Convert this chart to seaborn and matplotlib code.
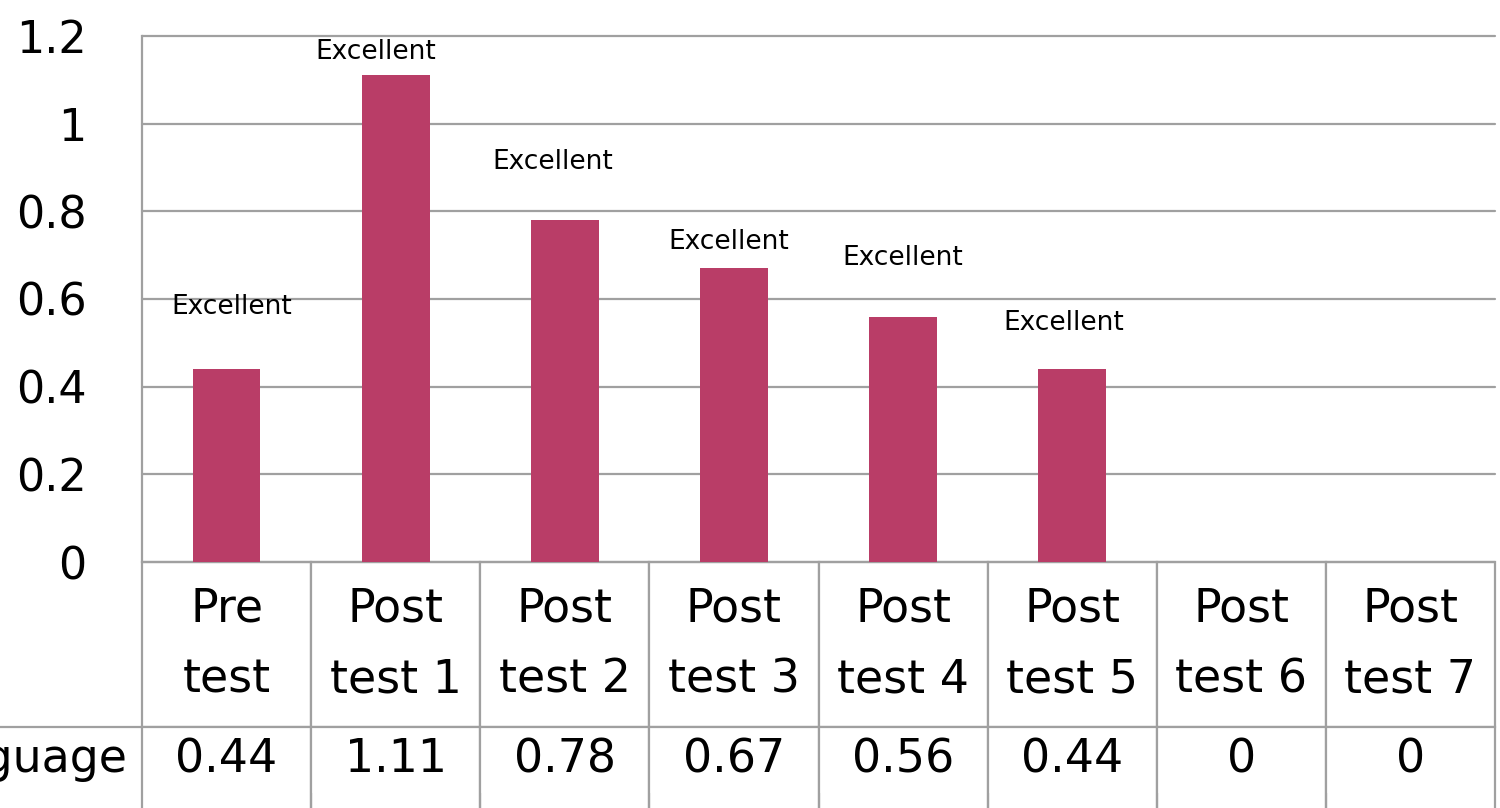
import matplotlib
matplotlib.use("Agg")
import numpy as np
import pandas as pd
import seaborn as sns
from matplotlib import pyplot as plt

# chart data
categories = ["Pre test", "Post test 1", "Post test 2", "Post test 3",
              "Post test 4", "Post test 5", "Post test 6", "Post test 7"]
header_labels = ["Pre\ntest", "Post\ntest 1", "Post\ntest 2", "Post\ntest 3",
                 "Post\ntest 4", "Post\ntest 5", "Post\ntest 6", "Post\ntest 7"]
language = [0.44, 1.11, 0.78, 0.67, 0.56, 0.44, 0, 0]
value_text = ["0.44", "1.11", "0.78", "0.67", "0.56", "0.44", "0", "0"]
notes = ["Excellent"] * 6
y_ticks = [0, 0.2, 0.4, 0.6, 0.8, 1, 1.2]
y_tick_labels = ["0", "0.2", "0.4", "0.6", "0.8", "1", "1.2"]

# where the "Excellent" notes sit (x offset from bar centre, y in data units)
note_pos = [(0.03, 0.582), (-0.115, 1.164), (-0.074, 0.913),
            (-0.03, 0.730), (0.0, 0.694), (-0.05, 0.545)]

sns.set_style("white")
plt.rcParams["font.family"] = ["DejaVu Sans"]
plt.rcParams["text.color"] = "black"
plt.rcParams["ytick.color"] = "black"

grey = "#a0a0a0"
bar_color = "#b93d67"

df = pd.DataFrame({"test": categories, "value": language})

fig = plt.figure(figsize=(15, 8.08), dpi=100)
ax = fig.add_axes([142 / 1500, 1 - 562 / 808, 1353 / 1500, 526 / 808])

sns.barplot(data=df, x="test", y="value", order=categories, color=bar_color,
            width=0.4, saturation=1, linewidth=0, ax=ax)

ax.set_ylim(0, 1.2)
ax.set_xlim(-0.5, len(categories) - 0.5)
ax.set_yticks(y_ticks)
ax.set_yticklabels(y_tick_labels, fontsize=32)
ax.tick_params(axis="y", length=0, pad=40, labelcolor="black")
for lbl in ax.get_yticklabels():
    lbl.set_va("center_baseline")
ax.set_xticks([])
ax.set_xlabel("")
ax.set_ylabel("")
ax.yaxis.grid(True, color=grey, linewidth=1.6)
for gl in ax.get_ygridlines():
    gl.set_clip_on(False)
ax.set_axisbelow(True)
for side in ["top", "right", "bottom"]:
    ax.spines[side].set_visible(False)
ax.spines["left"].set_color(grey)
ax.spines["left"].set_linewidth(1.6)

for i, (dx, y) in enumerate(note_pos):
    ax.text(i + dx, y, notes[i], ha="center", va="center", fontsize=19,
            color="black")

# data table under the bars
cell_text = [[""] + header_labels, ["Language"] + value_text, [""] * 9]
row_h = [165, 66, 40]
col_w = [142] + [1353 / 8] * 8
total_w = sum(col_w)
tab = ax.table(cellText=cell_text, cellLoc="center",
               colWidths=[w / total_w for w in col_w],
               bbox=[-142 / 1353, -sum(row_h) / 526, total_w / 1353, sum(row_h) / 526])
tab.auto_set_font_size(False)
tab.set_fontsize(33)
for (r, c), cell in tab.get_celld().items():
    cell.set_edgecolor(grey)
    cell.set_linewidth(1.6)
    cell.set_height(row_h[r])
    cell.get_text().set_linespacing(1.75)
    cell.get_text().set_color("black")
    if r == 2:
        cell.visible_edges = "" if c == 0 else "LR"
    elif r == 1:
        cell.visible_edges = "T" if c == 0 else "LTR"
    elif c == 0:
        cell.visible_edges = ""
    if r == 1 and c == 0:
        cell._loc = "right"
        cell.get_text().set_ha("right")

fig.savefig("out.png", dpi=100)
